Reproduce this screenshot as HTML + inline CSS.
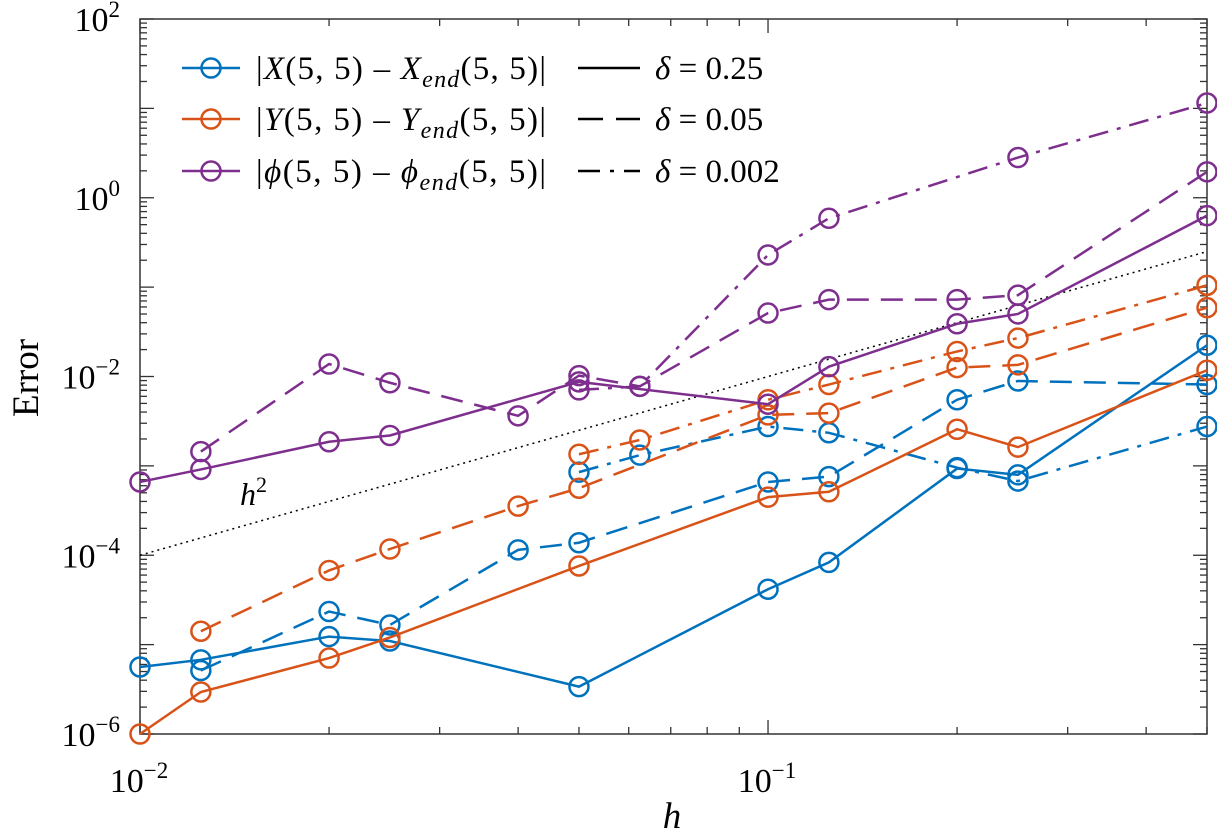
<!DOCTYPE html>
<html><head><meta charset="utf-8"><style>
body{margin:0;background:#fff}
svg{display:block;font-family:"Liberation Serif",serif}
</style></head><body>
<svg id="chart" width="1217" height="839">
<g id="grid"></g>
<g id="series"></g>
<g id="legend"></g>
</svg>
<script>
const hVals=[0.01,0.0125,0.02,0.025,0.04,0.05,0.0625,0.1,0.125,0.2,0.25,0.5];
// log10(error) values, null where missing
const xSolid=[-5.25,-5.17,-4.91,-4.96,null,-5.47,null,-4.38,-4.08,-3.03,-3.10,-1.65];
const xDash=[null,-5.29,-4.63,-4.78,-3.94,-3.86,null,-3.18,-3.12,-2.26,-2.05,-2.09];
const xDashDot=[null,null,null,null,null,-3.07,-2.88,-2.56,-2.63,-3.02,-3.17,-2.56];
const ySolid=[-6.0,-5.53,-5.15,-4.92,null,-4.12,null,-3.35,-3.29,-2.59,-2.79,-1.93];
const yDash=[null,-4.85,-4.17,-3.93,-3.45,-3.25,null,-2.43,-2.41,-1.90,-1.87,-1.23];
const yDashDot=[null,null,null,null,null,-2.87,-2.71,-2.26,-2.09,-1.72,-1.57,-0.98];
const pSolid=[-3.18,-3.04,-2.73,-2.66,null,-2.06,null,-2.31,-1.89,-1.41,-1.30,-0.20];
const pDash=[null,-2.84,-1.86,-2.07,-2.44,-1.99,-2.11,-1.29,-1.14,-1.14,-1.09,0.29];
const pDashDot=[null,null,null,null,null,-2.15,-2.11,-0.64,-0.23,null,0.45,1.06];
const xTickLabels=["-2","-1"];
const yTickExps=[2,0,-2,-4,-6];

const L=140,R=1207,T=19,B=734;
const xMin=-2,xMax=Math.log10(0.5),yMin=-6,yMax=2;
const sx=v=>L+(Math.log10(v)-xMin)/(xMax-xMin)*(R-L);
const sxl=l=>L+(l-xMin)/(xMax-xMin)*(R-L);
const sy=l=>B-(l-yMin)/(yMax-yMin)*(B-T);
const NS="http://www.w3.org/2000/svg";
function mk(t,a,p){const e=document.createElementNS(NS,t);for(const k in a)e.setAttribute(k,a[k]);p.appendChild(e);return e;}
const grid=document.getElementById('grid'),ser=document.getElementById('series'),leg=document.getElementById('legend');
const fr=mk('rect',{x:L,y:T,width:R-L,height:B-T,fill:'none',stroke:'#333','stroke-width':1.5},grid);

for(let d=-2;d<=-1;d++){for(let m=1;m<10;m++){const l=d+Math.log10(m);if(l>xMax+1e-9)break;const x=sxl(l);const len=m===1?14:7;
mk('line',{x1:x,y1:B,x2:x,y2:B-len,stroke:'#333','stroke-width':1.3},grid);
mk('line',{x1:x,y1:T,x2:x,y2:T+len,stroke:'#333','stroke-width':1.3},grid);}}
xTickLabels.forEach(e=>{const x=sxl(+e);const t=mk('text',{x:x-1,y:792,'font-size':34,'text-anchor':'middle'},grid);

t.innerHTML='10<tspan dy="-14" font-size="23">−'+e.slice(1)+'</tspan>';});
for(let d=-6;d<=2;d++){for(let m=1;m<10;m++){const l=d+Math.log10(m);if(l>yMax+1e-9)break;const y=sy(l);const len=m===1?14:7;
mk('line',{x1:L,y1:y,x2:L+len,y2:y,stroke:'#333','stroke-width':1.3},grid);
mk('line',{x1:R,y1:y,x2:R-len,y2:y,stroke:'#333','stroke-width':1.3},grid);}}
yTickExps.forEach(e=>{const y=sy(e);const t=mk('text',{x:120,y:y+12,'font-size':34,'text-anchor':'end'},grid);

t.innerHTML='10<tspan dy="-14" font-size="23">'+(e<0?'−'+(-e):e)+'</tspan>';});
const yl=mk('text',{x:0,y:0,'font-size':37,'text-anchor':'middle',transform:'translate(38,378) rotate(-90)'},grid);yl.textContent='Error';

const xl=mk('text',{x:672,y:828,'font-size':37,'font-style':'italic','text-anchor':'middle'},grid);xl.textContent='h';

const ref=mk('line',{x1:sx(0.01),y1:sy(2*Math.log10(0.01)),x2:sx(0.5),y2:sy(2*Math.log10(0.5)),stroke:'#000','stroke-width':1.5,'stroke-dasharray':'2,4'},ser);

const rl=mk('text',{x:240,y:505,'font-size':32,'font-style':'italic'},ser);rl.innerHTML='h<tspan dy="-13" font-size="22" font-style="normal">2</tspan>';

const C={b:'#0072BD',o:'#D95319',p:'#7E2F8E'};
const D={s:'',d:'22,12',dd:'20,9,4,9'};
function draw(arr,col,dash,name){const g=mk('g',{},ser);
const pts=[];arr.forEach((v,i)=>{if(v!==null)pts.push([sx(hVals[i]),sy(v)]);});
mk('polyline',{points:pts.map(p=>p.join(',')).join(' '),fill:'none',stroke:col,'stroke-width':2.5,'stroke-dasharray':dash},g);
pts.forEach(p=>{const c=mk('circle',{cx:p[0],cy:p[1],r:9.5,fill:'none',stroke:col,'stroke-width':2.5},g);
});}
draw(xSolid,C.b,D.s,'x-error-delta-0.25');draw(xDash,C.b,D.d,'x-error-delta-0.05');draw(xDashDot,C.b,D.dd,'x-error-delta-0.002');
draw(ySolid,C.o,D.s,'y-error-delta-0.25');draw(yDash,C.o,D.d,'y-error-delta-0.05');draw(yDashDot,C.o,D.dd,'y-error-delta-0.002');
draw(pSolid,C.p,D.s,'phi-error-delta-0.25');draw(pDash,C.p,D.d,'phi-error-delta-0.05');draw(pDashDot,C.p,D.dd,'phi-error-delta-0.002');
const lg=[[C.b,'|<i>X</i>(5, 5) – <i>X</i><tspan dy="8" font-size="24" font-style="italic">end</tspan><tspan dy="-8">(5, 5)|</tspan>'],
[C.o,'|<i>Y</i>(5, 5) – <i>Y</i><tspan dy="8" font-size="24" font-style="italic">end</tspan><tspan dy="-8">(5, 5)|</tspan>'],
[C.p,'|<i>ϕ</i>(5, 5) – <i>ϕ</i><tspan dy="8" font-size="24" font-style="italic">end</tspan><tspan dy="-8">(5, 5)|</tspan>']];
const ly=[68,119,171];
lg.forEach((e,i)=>{const g=mk('g',{},leg);
mk('line',{x1:182,y1:ly[i],x2:240,y2:ly[i],stroke:e[0],'stroke-width':2.5},g);
mk('circle',{cx:211,cy:ly[i],r:9.5,fill:'none',stroke:e[0],'stroke-width':2.5},g);
const t=mk('text',{x:256,y:ly[i]+11,'font-size':33,textLength:290,lengthAdjust:'spacing'},g);t.innerHTML=e[1].replace(/<i>/g,'<tspan font-style="italic">').replace(/<\/i>/g,'</tspan>');});
const ld=[['','0.25'],['25,13','0.05'],['22,10,4,10','0.002']];
ld.forEach((e,i)=>{const g=mk('g',{},leg);
mk('line',{x1:578,y1:ly[i],x2:640,y2:ly[i],stroke:'#000','stroke-width':2.5,'stroke-dasharray':e[0]},g);
const t=mk('text',{x:655,y:ly[i]+11,'font-size':33},g);t.innerHTML='<tspan font-style="italic">δ</tspan> = '+e[1];});
</script>
</body></html>
